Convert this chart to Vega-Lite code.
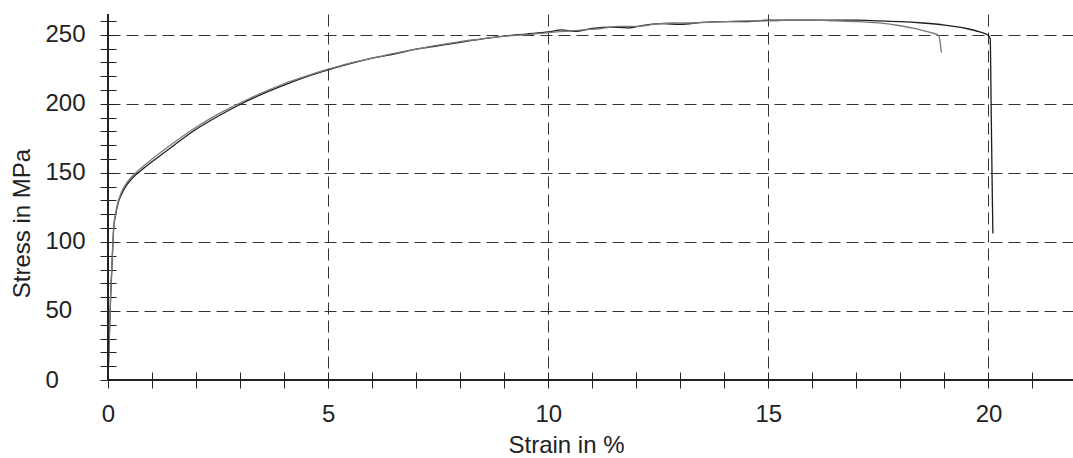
{
  "$schema": "https://vega.github.io/schema/vega-lite/v6.json",
  "width": 965,
  "height": 366,
  "autosize": "none",
  "padding": {"left": 108, "top": 14, "right": 0, "bottom": 78},
  "background": "white",
  "config": {"view": {"stroke": null}},
  "data": {"values": [
    {"s": 0, "t": 0, "c": "B"}, {"s": 0.03, "t": 30, "c": "B"}, {"s": 0.06, "t": 60, "c": "B"}, {"s": 0.1, "t": 90, "c": "B"},
    {"s": 0.13, "t": 110, "c": "B"}, {"s": 0.17, "t": 119, "c": "B"}, {"s": 0.22, "t": 127, "c": "B"}, {"s": 0.3, "t": 134, "c": "B"},
    {"s": 0.4, "t": 140, "c": "B"}, {"s": 0.55, "t": 146, "c": "B"}, {"s": 0.7, "t": 150.5, "c": "B"}, {"s": 1.0, "t": 158, "c": "B"},
    {"s": 1.5, "t": 170, "c": "B"}, {"s": 2.0, "t": 181.5, "c": "B"}, {"s": 2.5, "t": 191, "c": "B"}, {"s": 3.0, "t": 199.5, "c": "B"},
    {"s": 3.5, "t": 207, "c": "B"}, {"s": 4.0, "t": 213.5, "c": "B"}, {"s": 4.5, "t": 219.5, "c": "B"}, {"s": 5.0, "t": 224.5, "c": "B"},
    {"s": 5.5, "t": 229, "c": "B"}, {"s": 6.0, "t": 233, "c": "B"}, {"s": 6.5, "t": 236, "c": "B"}, {"s": 7.0, "t": 239.5, "c": "B"},
    {"s": 7.5, "t": 242, "c": "B"}, {"s": 8.0, "t": 244.5, "c": "B"}, {"s": 8.5, "t": 247, "c": "B"}, {"s": 9.0, "t": 249, "c": "B"},
    {"s": 9.5, "t": 250.5, "c": "B"}, {"s": 10.0, "t": 252, "c": "B"}, {"s": 10.3, "t": 253.5, "c": "B"}, {"s": 10.6, "t": 252.5, "c": "B"},
    {"s": 11.0, "t": 254.5, "c": "B"}, {"s": 11.4, "t": 255.5, "c": "B"}, {"s": 11.8, "t": 255, "c": "B"}, {"s": 12.2, "t": 257, "c": "B"},
    {"s": 12.6, "t": 258, "c": "B"}, {"s": 13.0, "t": 257.5, "c": "B"}, {"s": 13.5, "t": 259, "c": "B"}, {"s": 14.0, "t": 259.5, "c": "B"},
    {"s": 14.5, "t": 259.5, "c": "B"}, {"s": 15.0, "t": 260.5, "c": "B"}, {"s": 15.5, "t": 260.5, "c": "B"}, {"s": 16.0, "t": 260.5, "c": "B"},
    {"s": 16.5, "t": 260.5, "c": "B"}, {"s": 17.0, "t": 260.5, "c": "B"}, {"s": 17.5, "t": 260, "c": "B"}, {"s": 18.0, "t": 259.5, "c": "B"},
    {"s": 18.5, "t": 258.5, "c": "B"}, {"s": 19.0, "t": 257, "c": "B"}, {"s": 19.5, "t": 254.5, "c": "B"}, {"s": 19.8, "t": 252, "c": "B"},
    {"s": 20.0, "t": 249.5, "c": "B"}, {"s": 20.04, "t": 247, "c": "B"}, {"s": 20.06, "t": 200, "c": "B"}, {"s": 20.08, "t": 150, "c": "B"},
    {"s": 20.1, "t": 106, "c": "B"},
    {"s": 0, "t": 0, "c": "A"}, {"s": 0.03, "t": 32, "c": "A"}, {"s": 0.06, "t": 62, "c": "A"}, {"s": 0.1, "t": 92, "c": "A"},
    {"s": 0.13, "t": 111, "c": "A"}, {"s": 0.17, "t": 120, "c": "A"}, {"s": 0.22, "t": 128, "c": "A"}, {"s": 0.3, "t": 135.5, "c": "A"},
    {"s": 0.4, "t": 141.5, "c": "A"}, {"s": 0.55, "t": 147.5, "c": "A"}, {"s": 0.7, "t": 152, "c": "A"}, {"s": 1.0, "t": 160, "c": "A"},
    {"s": 1.5, "t": 172, "c": "A"}, {"s": 2.0, "t": 183, "c": "A"}, {"s": 2.5, "t": 192.5, "c": "A"}, {"s": 3.0, "t": 200.5, "c": "A"},
    {"s": 3.5, "t": 208, "c": "A"}, {"s": 4.0, "t": 214.5, "c": "A"}, {"s": 4.5, "t": 220, "c": "A"}, {"s": 5.0, "t": 225, "c": "A"},
    {"s": 5.5, "t": 229.5, "c": "A"}, {"s": 6.0, "t": 233, "c": "A"}, {"s": 6.5, "t": 236.5, "c": "A"}, {"s": 7.0, "t": 239.5, "c": "A"},
    {"s": 7.5, "t": 242.5, "c": "A"}, {"s": 8.0, "t": 245, "c": "A"}, {"s": 8.5, "t": 247, "c": "A"}, {"s": 9.0, "t": 249, "c": "A"},
    {"s": 9.5, "t": 250, "c": "A"}, {"s": 10.0, "t": 251.5, "c": "A"}, {"s": 10.4, "t": 252.5, "c": "A"}, {"s": 10.8, "t": 253.5, "c": "A"},
    {"s": 11.2, "t": 254.5, "c": "A"}, {"s": 11.6, "t": 256, "c": "A"}, {"s": 12.0, "t": 256, "c": "A"}, {"s": 12.4, "t": 257.5, "c": "A"},
    {"s": 12.8, "t": 258.5, "c": "A"}, {"s": 13.2, "t": 258.5, "c": "A"}, {"s": 13.6, "t": 259, "c": "A"}, {"s": 14.0, "t": 259.5, "c": "A"},
    {"s": 14.5, "t": 260, "c": "A"}, {"s": 15.0, "t": 260, "c": "A"}, {"s": 15.5, "t": 260.5, "c": "A"}, {"s": 16.0, "t": 260.5, "c": "A"},
    {"s": 16.5, "t": 260, "c": "A"}, {"s": 17.0, "t": 259.5, "c": "A"}, {"s": 17.5, "t": 258.5, "c": "A"}, {"s": 18.0, "t": 256.5, "c": "A"},
    {"s": 18.4, "t": 254, "c": "A"}, {"s": 18.7, "t": 251.5, "c": "A"}, {"s": 18.87, "t": 249.5, "c": "A"}, {"s": 18.9, "t": 245, "c": "A"},
    {"s": 18.93, "t": 237, "c": "A"}
  ]},
  "layer": [
    {
      "mark": {"type": "line", "strokeWidth": 1.3, "interpolate": "monotone"},
      "encoding": {
        "color": {"field": "c", "type": "nominal", "scale": {"domain": ["A", "B"], "range": ["#7a7a7a", "#1e1e1e"]}, "legend": null},
        "x": {
          "field": "s", "type": "quantitative",
          "scale": {"domain": [0, 21.92], "nice": false, "zero": false},
          "axis": {
            "title": "Strain in %",
            "values": [0,1,2,3,4,5,6,7,8,9,10,11,12,13,14,15,16,17,18,19,20,21],
            "labelExpr": "datum.value % 5 === 0 ? datum.label : ''",
            "labelOverlap": false, "labelFlush": false, "labelBound": false,
            "domain": false, "offset": -8, "tickSize": 16, "tickColor": "#222", "tickWidth": 1,
            "labelPadding": 14, "labelFont": "Liberation Sans", "labelFontSize": 24, "labelColor": "#222",
            "titleFont": "Liberation Sans", "titleFontSize": 24, "titleFontWeight": "normal", "titleColor": "#222",
            "titleX": 458, "titleY": 80, "titleBaseline": "alphabetic", "titleAlign": "center",
            "grid": true, "gridColor": "#333", "gridDash": [12, 6], "gridWidth": 1,
            "gridOpacity": {"condition": {"test": "datum.value % 5 === 0 && datum.value > 0", "value": 1}, "value": 0}
          }
        },
        "y": {
          "field": "t", "type": "quantitative",
          "scale": {"domain": [0, 265], "nice": false, "zero": false},
          "axis": {
            "title": "Stress in MPa",
            "values": [0,10,20,30,40,50,60,70,80,90,100,110,120,130,140,150,160,170,180,190,200,210,220,230,240,250,260],
            "labelExpr": "datum.value % 50 === 0 ? datum.label : ''",
            "labelOverlap": false, "labelFlush": false, "labelBound": false,
            "domain": false, "offset": -8, "tickSize": 16, "tickColor": "#222", "tickWidth": 1,
            "labelAlign": "left", "labelPadding": 55, "labelBaseline": "middle",
            "labelFont": "Liberation Sans", "labelFontSize": 24, "labelColor": "#222",
            "titleFont": "Liberation Sans", "titleFontSize": 24, "titleFontWeight": "normal", "titleColor": "#222",
            "titleAngle": 270, "titleX": -87, "titleY": 209, "titleBaseline": "alphabetic", "titleAlign": "center",
            "grid": true, "gridColor": "#333", "gridDash": [12, 6], "gridWidth": 1,
            "gridOpacity": {"condition": {"test": "datum.value % 50 === 0 && datum.value > 0", "value": 1}, "value": 0}
          }
        }
      }
    },
    {
      "mark": {"type": "rule", "color": "#222", "strokeWidth": 1},
      "encoding": {"x": {"datum": 0, "type": "quantitative",
          "axis": {
            "title": "Strain in %",
            "values": [0,1,2,3,4,5,6,7,8,9,10,11,12,13,14,15,16,17,18,19,20,21],
            "labelExpr": "datum.value % 5 === 0 ? datum.label : ''",
            "labelOverlap": false, "labelFlush": false, "labelBound": false,
            "domain": false, "offset": -8, "tickSize": 16, "tickColor": "#222", "tickWidth": 1,
            "labelPadding": 14, "labelFont": "Liberation Sans", "labelFontSize": 24, "labelColor": "#222",
            "titleFont": "Liberation Sans", "titleFontSize": 24, "titleFontWeight": "normal", "titleColor": "#222",
            "titleX": 458, "titleY": 80, "titleBaseline": "alphabetic", "titleAlign": "center",
            "grid": true, "gridColor": "#333", "gridDash": [12, 6], "gridWidth": 1,
            "gridOpacity": {"condition": {"test": "datum.value % 5 === 0 && datum.value > 0", "value": 1}, "value": 0}
          }}}
    },
    {
      "mark": {"type": "rule", "color": "#222", "strokeWidth": 1},
      "encoding": {"y": {"datum": 0, "type": "quantitative",
          "axis": {
            "title": "Stress in MPa",
            "values": [0,10,20,30,40,50,60,70,80,90,100,110,120,130,140,150,160,170,180,190,200,210,220,230,240,250,260],
            "labelExpr": "datum.value % 50 === 0 ? datum.label : ''",
            "labelOverlap": false, "labelFlush": false, "labelBound": false,
            "domain": false, "offset": -8, "tickSize": 16, "tickColor": "#222", "tickWidth": 1,
            "labelAlign": "left", "labelPadding": 55, "labelBaseline": "middle",
            "labelFont": "Liberation Sans", "labelFontSize": 24, "labelColor": "#222",
            "titleFont": "Liberation Sans", "titleFontSize": 24, "titleFontWeight": "normal", "titleColor": "#222",
            "titleAngle": 270, "titleX": -87, "titleY": 209, "titleBaseline": "alphabetic", "titleAlign": "center",
            "grid": true, "gridColor": "#333", "gridDash": [12, 6], "gridWidth": 1,
            "gridOpacity": {"condition": {"test": "datum.value % 50 === 0 && datum.value > 0", "value": 1}, "value": 0}
          }}}
    }
  ]
}
